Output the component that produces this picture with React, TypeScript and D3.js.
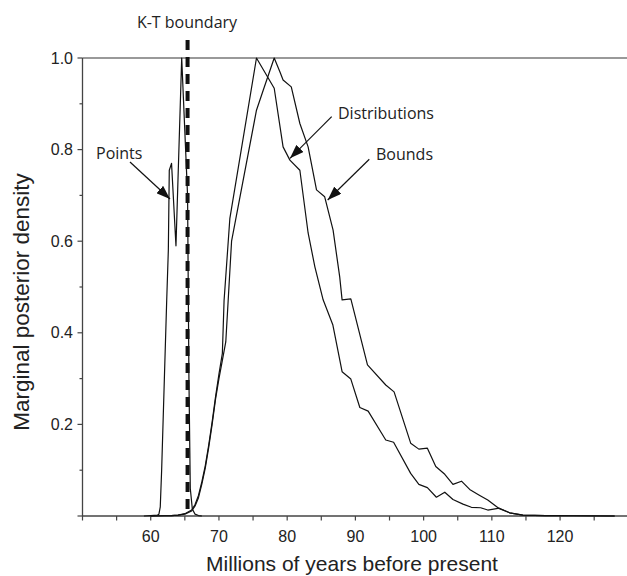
import React from "react";
import * as d3 from "d3";

const W = 627;
const H = 576;

// Points curve
const pointsX = [59.0, 60.0, 61.0, 61.2, 61.4, 61.6, 62.0, 62.34, 62.58, 62.72, 63.05, 63.7, 64.54, 65.4, 65.6, 65.8, 66.1, 66.5, 67.0, 67.5];
const pointsY = [0, 0.001, 0.002, 0.004, 0.02, 0.1, 0.3, 0.47, 0.58, 0.755, 0.77, 0.59, 1.0, 0.7, 0.3, 0.06, 0.015, 0.004, 0.001, 0];

// Distributions curve
const distX = [60, 62, 63, 64, 65, 66, 66.5, 67, 67.5, 68, 68.5, 69, 69.5, 70, 70.5, 70.75, 71.6, 75.5, 78.1, 79.4, 80.4, 81.86, 83.07, 84.06, 85.27, 86.7, 88.05, 89.33, 90.65, 91.87, 94.45, 95.6, 98.1, 99.3, 100.55, 101.87, 103.1, 104.3, 105.77, 107, 108.36, 109.4, 111.1, 112.6, 114.55, 117.9, 122, 128];
const distY = [0, 0.0005, 0.001, 0.002, 0.005, 0.013, 0.025, 0.045, 0.075, 0.11, 0.155, 0.205, 0.26, 0.31, 0.355, 0.47, 0.65, 1.0, 0.934, 0.806, 0.777, 0.755, 0.618, 0.544, 0.472, 0.417, 0.315, 0.299, 0.237, 0.229, 0.166, 0.161, 0.093, 0.069, 0.062, 0.041, 0.052, 0.036, 0.026, 0.019, 0.018, 0.013, 0.017, 0.007, 0.002, 0.001, 0.0005, 0];

// Bounds curve
const boundX = [60, 62, 63, 64, 65, 66, 66.5, 67, 67.5, 68, 68.5, 69, 69.5, 70, 70.5, 71.0, 71.35, 71.85, 75.5, 76.5, 78.1, 78.93, 79.4, 80.6, 81.86, 83.07, 84.3, 85.5, 86.73, 87.7, 88.05, 89.33, 91.77, 94.45, 95.67, 98.1, 99.3, 100.55, 101.78, 103.1, 104.3, 105.55, 106.75, 108.1, 109.4, 111.1, 112.6, 114.55, 117.9, 122, 128];
const boundY = [0, 0.0005, 0.001, 0.002, 0.004, 0.011, 0.022, 0.04, 0.07, 0.105, 0.15, 0.2, 0.255, 0.3, 0.34, 0.38, 0.47, 0.6, 0.886, 0.93, 1.0, 0.97, 0.952, 0.937, 0.857, 0.806, 0.712, 0.697, 0.624, 0.522, 0.472, 0.474, 0.33, 0.286, 0.271, 0.159, 0.146, 0.148, 0.108, 0.091, 0.069, 0.076, 0.058, 0.046, 0.035, 0.016, 0.007, 0.002, 0.001, 0.0005, 0];

const xMajorTicks = [60, 70, 80, 90, 100, 110, 120];
const xAllTicks = [50, 55, 60, 65, 70, 75, 80, 85, 90, 95, 100, 105, 110, 115, 120, 125, 130];
const yMajorTicks = [0.2, 0.4, 0.6, 0.8, 1.0];
const yAllTicks = [0, 0.1, 0.2, 0.3, 0.4, 0.5, 0.6, 0.7, 0.8, 0.9, 1.0];
const ktBoundary = 65.4;

const x = d3.scaleLinear().domain([50, 130]).range([82.5, 628.3]);
const y = d3.scaleLinear().domain([0, 1]).range([516, 58]);

const zip = (xs: number[], ys: number[]) => xs.map((v, i) => [v, ys[i]] as [number, number]);
const line = d3
  .line<[number, number]>()
  .x((d) => x(d[0]))
  .y((d) => y(d[1]));

const sans = "'Liberation Sans', Arial, sans-serif";
const myriad = "'Open Sans', 'Noto Sans', sans-serif";
const axisColor = "#444";

export default function App() {
  const arrows = [
    { x1: 130, y1: 162, x2: 170, y2: 199 },
    { x1: 331.7, y1: 116.7, x2: 290, y2: 158.3 },
    { x1: 369.3, y1: 159.3, x2: 327.7, y2: 200 },
  ];
  return (
    <svg
      width={W}
      height={H}
      style={{ position: "absolute", left: 0, top: 0, background: "#fff" }}
    >
      <defs>
        <marker
          id="ah"
          viewBox="0 0 14 10"
          refX="14"
          refY="5"
          markerWidth="14"
          markerHeight="10"
          markerUnits="userSpaceOnUse"
          orient="auto"
        >
          <path d="M0,0 L14,5 L0,10 Z" fill="#111" />
        </marker>
        <clipPath id="plotclip">
          <rect x={0} y={0} width={W} height={H} />
        </clipPath>
      </defs>

      {/* top frame line */}
      <line x1={x(50)} x2={W} y1={y(1)} y2={y(1)} stroke="#777" strokeWidth={1.4} />

      {/* axes */}
      <line x1={x(50)} x2={W} y1={y(0)} y2={y(0)} stroke={axisColor} strokeWidth={1.3} />
      <line x1={x(50)} x2={x(50)} y1={y(0)} y2={y(1)} stroke={axisColor} strokeWidth={1.3} />

      {xAllTicks.map((t) => (
        <line key={"xt" + t} x1={x(t)} x2={x(t)} y1={y(0)} y2={y(0) + 4.5} stroke={axisColor} strokeWidth={1.2} />
      ))}
      {xMajorTicks.map((t) => (
        <text key={"xl" + t} x={x(t)} y={542} textAnchor="middle" fontFamily={sans} fontSize={16} fill="#222">
          {t}
        </text>
      ))}
      {yAllTicks.map((t, i) => (
        <line
          key={"yt" + t}
          x1={x(50) - (i % 2 === 0 ? 5 : 3)}
          x2={x(50)}
          y1={y(t)}
          y2={y(t)}
          stroke={axisColor}
          strokeWidth={1.2}
        />
      ))}
      {yMajorTicks.map((t) => (
        <text key={"yl" + t} x={73} y={y(t) + 5.5} textAnchor="end" fontFamily={sans} fontSize={16} fill="#222">
          {t.toFixed(1)}
        </text>
      ))}

      {/* axis titles */}
      <text x={352} y={571} textAnchor="middle" fontFamily={sans} fontSize={21} fill="#222">
        Millions of years before present
      </text>
      <text
        transform={`translate(29,302) rotate(-90)`}
        textAnchor="middle"
        fontFamily={sans}
        fontSize={22.5}
        fill="#222"
      >
        Marginal posterior density
      </text>

      {/* curves */}
      <g clipPath="url(#plotclip)" fill="none" stroke="#111" strokeWidth={1.2} strokeLinejoin="round">
        <path d={line(zip(pointsX, pointsY)) || ""} />
        <path d={line(zip(distX, distY)) || ""} />
        <path d={line(zip(boundX, boundY)) || ""} />
      </g>

      {/* K-T boundary dashed line */}
      <line
        x1={x(ktBoundary)}
        x2={x(ktBoundary)}
        y1={40}
        y2={y(0)}
        stroke="#111"
        strokeWidth={4}
        strokeDasharray="10,7"
      />

      {/* annotations */}
      <text x={187} y={28} textAnchor="middle" fontFamily={myriad} fontSize={16} fill="#222">
        K-T boundary
      </text>
      <text x={96} y={159} fontFamily={myriad} fontSize={16} fill="#222">
        Points
      </text>
      <text x={338} y={119} fontFamily={myriad} fontSize={16} fill="#222">
        Distributions
      </text>
      <text x={376} y={160} fontFamily={myriad} fontSize={16} fill="#222">
        Bounds
      </text>
      {arrows.map((a, i) => (
        <line key={"ar" + i} x1={a.x1} y1={a.y1} x2={a.x2} y2={a.y2} stroke="#111" strokeWidth={1.2} markerEnd="url(#ah)" />
      ))}
    </svg>
  );
}
